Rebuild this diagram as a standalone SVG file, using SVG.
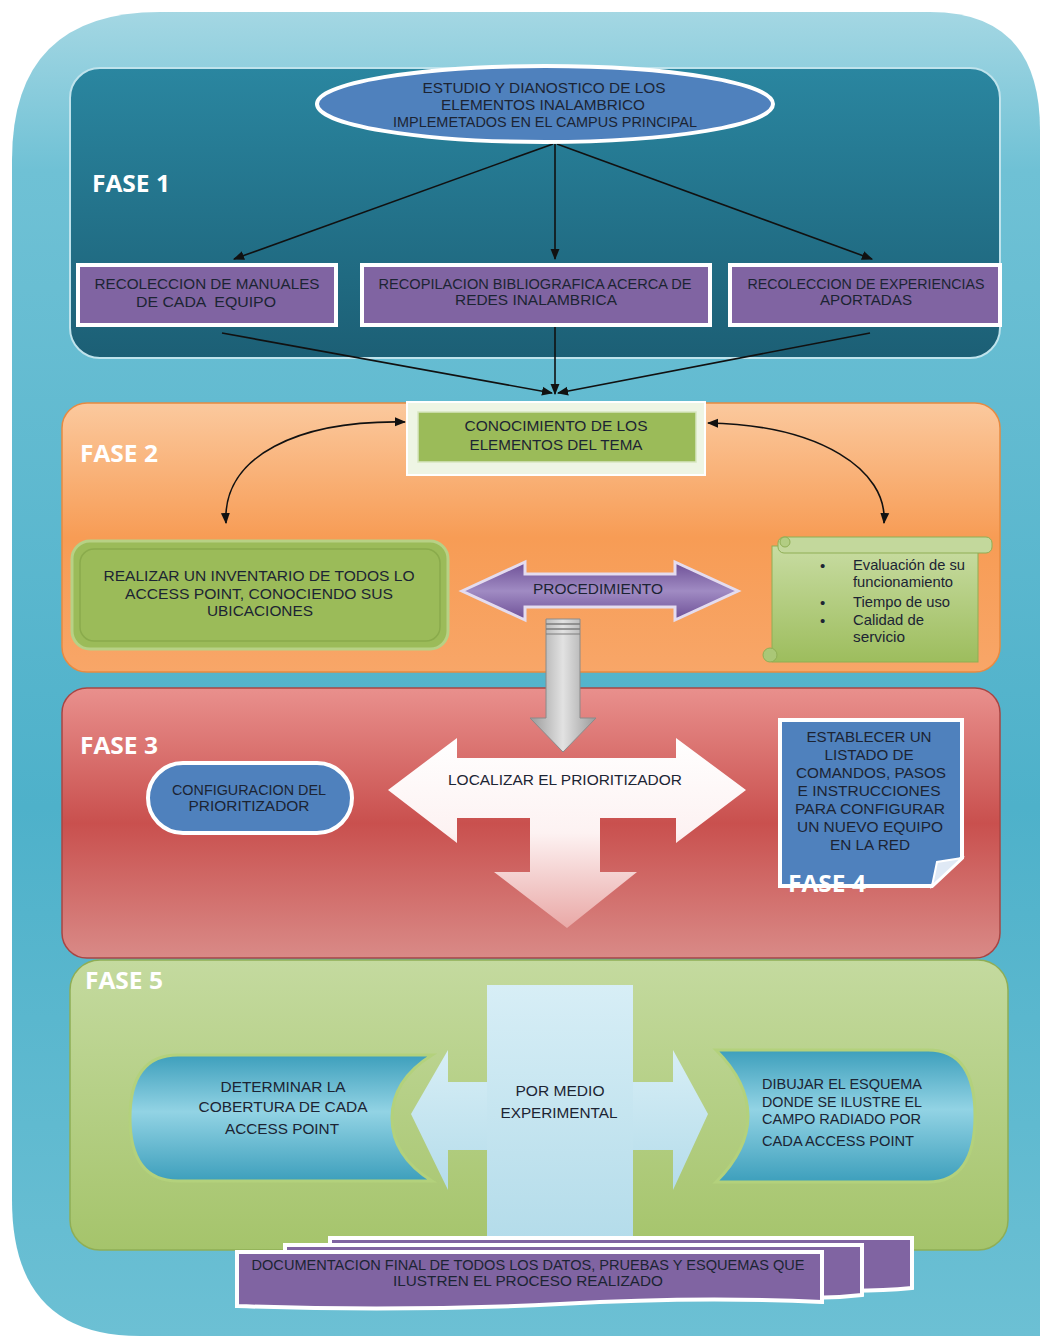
<svg xmlns="http://www.w3.org/2000/svg" width="1040" height="1336" viewBox="0 0 1040 1336">
<style>
.t{font-family:"Liberation Sans",Arial,sans-serif;font-size:15px;fill:#1c2433;text-anchor:middle}
.tl{font-family:"Liberation Sans",Arial,sans-serif;font-size:15px;fill:#1c2433;text-anchor:start}
.fase{font-family:"Open Sans","Liberation Sans",sans-serif;font-size:24px;font-weight:bold;fill:#ffffff}
.purple{fill:#8064a2;stroke:#ffffff;stroke-width:4}
.conn{fill:none;stroke:#111111;stroke-width:1.6}
</style>
<defs>
<linearGradient id="gOuter" x1="0" y1="0" x2="0" y2="1">
<stop offset="0" stop-color="#a4d7e3"/><stop offset="0.12" stop-color="#6fc1d5"/><stop offset="0.6" stop-color="#4eb1ca"/><stop offset="1" stop-color="#6cc0d4"/>
</linearGradient>
<linearGradient id="gF1" x1="0" y1="0" x2="0" y2="1">
<stop offset="0" stop-color="#2a86a0"/><stop offset="1" stop-color="#1c5f75"/>
</linearGradient>
<linearGradient id="gF2" x1="0" y1="0" x2="0" y2="1">
<stop offset="0" stop-color="#fbc99e"/><stop offset="0.5" stop-color="#f79c55"/><stop offset="1" stop-color="#f8a668"/>
</linearGradient>
<linearGradient id="gF3" x1="0" y1="0" x2="0" y2="1">
<stop offset="0" stop-color="#e9908d"/><stop offset="0.5" stop-color="#c9504e"/><stop offset="1" stop-color="#d98a87"/>
</linearGradient>
<linearGradient id="gF5" x1="0" y1="0" x2="0" y2="1">
<stop offset="0" stop-color="#c4da9f"/><stop offset="1" stop-color="#a5c46b"/>
</linearGradient>
<linearGradient id="gScroll" x1="0" y1="0" x2="0" y2="1">
<stop offset="0" stop-color="#c8dca2"/><stop offset="1" stop-color="#9dbd5d"/>
</linearGradient>
<linearGradient id="gGrey" x1="0" y1="0" x2="1" y2="0">
<stop offset="0" stop-color="#9a9a9a"/><stop offset="0.5" stop-color="#e2e2e2"/><stop offset="1" stop-color="#9a9a9a"/>
</linearGradient>
<linearGradient id="gWhite" x1="0" y1="0" x2="0" y2="1">
<stop offset="0" stop-color="#ffffff"/><stop offset="0.5" stop-color="#fdf2f2"/><stop offset="1" stop-color="#e9a8a6"/>
</linearGradient>
<linearGradient id="gCross" x1="0" y1="0" x2="0" y2="1">
<stop offset="0" stop-color="#d7eef6"/><stop offset="1" stop-color="#b4dcea"/>
</linearGradient>
<linearGradient id="gCyl" x1="0" y1="0" x2="0" y2="1">
<stop offset="0" stop-color="#3d9fbc"/><stop offset="0.45" stop-color="#92d3e4"/><stop offset="1" stop-color="#3d9fbc"/>
</linearGradient>
<linearGradient id="gProc" x1="0" y1="0" x2="0" y2="1">
<stop offset="0" stop-color="#6d4f96"/><stop offset="0.5" stop-color="#a08bc3"/><stop offset="1" stop-color="#6d4f96"/>
</linearGradient>
<marker id="ah" viewBox="0 0 10 10" refX="9" refY="5" markerWidth="7" markerHeight="7" orient="auto-start-reverse">
<path d="M0 1 L10 5 L0 9 Z" fill="#111111"/>
</marker>
</defs>

<rect width="1040" height="1336" fill="#ffffff"/>
<path d="M12 160 Q12 12 160 12 L930 12 Q1040 12 1040 130 L1040 1336 L140 1336 Q12 1336 12 1200 Z" fill="url(#gOuter)"/>

<g id="fase1-panel">
<rect x="70" y="68" width="930" height="290" rx="30" fill="url(#gF1)" stroke="#bfe3ec" stroke-width="2"/>
<text class="fase" x="92" y="192" textLength="78" lengthAdjust="spacingAndGlyphs">FASE 1</text>
</g>
<g id="fase2-panel">
<rect x="62" y="403" width="938" height="269" rx="25" fill="url(#gF2)" stroke="#e88a40" stroke-width="1.5"/>
<text class="fase" x="80" y="462" textLength="78" lengthAdjust="spacingAndGlyphs">FASE 2</text>
</g>
<g id="fase3-panel">
<rect x="62" y="688" width="938" height="270" rx="25" fill="url(#gF3)" stroke="#a94543" stroke-width="1.5"/>
<text class="fase" x="80" y="754" textLength="78" lengthAdjust="spacingAndGlyphs">FASE 3</text>
</g>
<g id="fase5-panel">
<rect x="70" y="960" width="938" height="290" rx="30" fill="url(#gF5)" stroke="#8fae55" stroke-width="1.5"/>
<text class="fase" x="85" y="989" textLength="78" lengthAdjust="spacingAndGlyphs">FASE 5</text>
</g>

<g id="connectors">
<line class="conn" x1="553" y1="144" x2="234" y2="259" marker-end="url(#ah)"/>
<line class="conn" x1="555" y1="144" x2="555" y2="259" marker-end="url(#ah)"/>
<line class="conn" x1="557" y1="144" x2="872" y2="259" marker-end="url(#ah)"/>
<line class="conn" x1="222" y1="333" x2="552" y2="393" marker-end="url(#ah)"/>
<line class="conn" x1="555" y1="325" x2="555" y2="394" marker-end="url(#ah)"/>
<line class="conn" x1="870" y1="333" x2="558" y2="393" marker-end="url(#ah)"/>
<path class="conn" d="M405 422 C300 420 222 455 226 523" marker-start="url(#ah)" marker-end="url(#ah)"/>
<path class="conn" d="M708 423 C820 425 888 470 884 523" marker-start="url(#ah)" marker-end="url(#ah)"/>
<polygon points="546,619 580,619 580,718 596,718 563,752 530,718 546,718" fill="url(#gGrey)" stroke="#8a8a8a" stroke-width="1"/>
<line x1="546" y1="624" x2="580" y2="624" stroke="#7d7d7d" stroke-width="1.5"/>
<line x1="546" y1="629" x2="580" y2="629" stroke="#7d7d7d" stroke-width="1.5"/>
<line x1="546" y1="634" x2="580" y2="634" stroke="#7d7d7d" stroke-width="1"/>
</g>

<g id="n-estudio">
<ellipse cx="545" cy="104" rx="228" ry="38" fill="#4f81bd" stroke="#ffffff" stroke-width="4"/>
<text class="t" x="544" y="93" textLength="243" lengthAdjust="spacingAndGlyphs">ESTUDIO Y DIANOSTICO DE LOS</text>
<text class="t" x="543" y="110" textLength="204" lengthAdjust="spacingAndGlyphs">ELEMENTOS INALAMBRICO</text>
<text class="t" x="545" y="127" textLength="304" lengthAdjust="spacingAndGlyphs">IMPLEMETADOS EN EL CAMPUS PRINCIPAL</text>
</g>
<g id="n-manuales">
<rect class="purple" x="78" y="265" width="258" height="60"/>
<text class="t" x="207" y="289" textLength="225" lengthAdjust="spacingAndGlyphs">RECOLECCION DE MANUALES</text>
<text class="t" x="206" y="307" textLength="140" lengthAdjust="spacingAndGlyphs" xml:space="preserve">DE CADA  EQUIPO</text>
</g>
<g id="n-bibliografica">
<rect class="purple" x="362" y="265" width="348" height="60"/>
<text class="t" x="535" y="289" textLength="313" lengthAdjust="spacingAndGlyphs">RECOPILACION BIBLIOGRAFICA ACERCA DE</text>
<text class="t" x="536" y="305" textLength="162" lengthAdjust="spacingAndGlyphs">REDES INALAMBRICA</text>
</g>
<g id="n-experiencias">
<rect class="purple" x="730" y="265" width="270" height="60"/>
<text class="t" x="866" y="289" textLength="237" lengthAdjust="spacingAndGlyphs">RECOLECCION DE EXPERIENCIAS</text>
<text class="t" x="866" y="305" textLength="92" lengthAdjust="spacingAndGlyphs">APORTADAS</text>
</g>

<g id="n-conocimiento">
<rect x="407" y="402" width="298" height="73" fill="#eef5e4" stroke="#ffffff" stroke-width="2"/>
<rect x="418" y="412" width="278" height="50" fill="#9bbb59" stroke="#d7e6c0" stroke-width="1.5"/>
<text class="t" x="556" y="431" textLength="183" lengthAdjust="spacingAndGlyphs">CONOCIMIENTO DE LOS</text>
<text class="t" x="556" y="450" textLength="173" lengthAdjust="spacingAndGlyphs">ELEMENTOS DEL TEMA</text>
</g>
<g id="n-inventario">
<rect x="72" y="541" width="376" height="108" rx="18" fill="#9bbb59" stroke="#b7d185" stroke-width="3"/>
<rect x="80" y="549" width="360" height="92" rx="14" fill="none" stroke="#8aab4c" stroke-width="1.5"/>
<text class="t" x="259" y="581" textLength="311" lengthAdjust="spacingAndGlyphs">REALIZAR UN INVENTARIO DE TODOS LO</text>
<text class="t" x="259" y="599" textLength="268" lengthAdjust="spacingAndGlyphs">ACCESS POINT, CONOCIENDO SUS</text>
<text class="t" x="260" y="616" textLength="106" lengthAdjust="spacingAndGlyphs">UBICACIONES</text>
</g>
<g id="n-procedimiento">
<polygon points="462,591 525,562 525,574 675,574 675,562 738,591 675,620 675,607 525,607 525,620" fill="url(#gProc)" stroke="#e4dcef" stroke-width="3"/>
<text class="t" x="598" y="594" textLength="130" lengthAdjust="spacingAndGlyphs">PROCEDIMIENTO</text>
</g>
<g id="n-scroll">
<rect x="772" y="546" width="206" height="116" fill="url(#gScroll)" stroke="#8fae55" stroke-width="1"/>
<rect x="778" y="537" width="214" height="16" rx="6" fill="#c3d89c" stroke="#8fae55" stroke-width="1"/>
<circle cx="770" cy="655" r="7" fill="#aac777" stroke="#8fae55" stroke-width="1"/>
<circle cx="785" cy="542" r="5" fill="#b2cd83" stroke="#8fae55" stroke-width="1"/>
<text class="tl" x="820" y="571" font-size="13">•</text>
<text class="tl" x="853" y="570" font-size="13" textLength="112" lengthAdjust="spacingAndGlyphs">Evaluación de su</text>
<text class="tl" x="853" y="587" font-size="13" textLength="100" lengthAdjust="spacingAndGlyphs">funcionamiento</text>
<text class="tl" x="820" y="608" font-size="13">•</text>
<text class="tl" x="853" y="607" font-size="13" textLength="97" lengthAdjust="spacingAndGlyphs">Tiempo de uso</text>
<text class="tl" x="820" y="626" font-size="13">•</text>
<text class="tl" x="853" y="625" font-size="13" textLength="71" lengthAdjust="spacingAndGlyphs">Calidad de</text>
<text class="tl" x="853" y="642" font-size="13" textLength="52" lengthAdjust="spacingAndGlyphs">servicio</text>
</g>

<g id="n-configuracion">
<rect x="148" y="763" width="204" height="70" rx="35" fill="#4f81bd" stroke="#ffffff" stroke-width="4"/>
<text class="t" x="249" y="795" textLength="154" lengthAdjust="spacingAndGlyphs">CONFIGURACION DEL</text>
<text class="t" x="249" y="811" textLength="121" lengthAdjust="spacingAndGlyphs">PRIORITIZADOR</text>
</g>
<g id="n-localizar">
<polygon points="388,790 457,738 457,758 676,758 676,738 746,790 676,843 676,818 600,818 600,872 637,872 567,928 494,872 530,872 530,818 457,818 457,843" fill="url(#gWhite)"/>
<text class="t" x="565" y="785" textLength="234" lengthAdjust="spacingAndGlyphs">LOCALIZAR EL PRIORITIZADOR</text>
</g>
<g id="n-fase4">
<path d="M780 720 L962 720 L962 858 L932 886 L780 886 Z" fill="#4f81bd" stroke="#ffffff" stroke-width="4"/>
<path d="M932 886 L937 862 L962 858 Z" fill="#dfe9f5" stroke="#ffffff" stroke-width="2"/>
<text class="t" x="869" y="742" textLength="125" lengthAdjust="spacingAndGlyphs">ESTABLECER UN</text>
<text class="t" x="869" y="760" textLength="89" lengthAdjust="spacingAndGlyphs">LISTADO DE</text>
<text class="t" x="871" y="778" textLength="150" lengthAdjust="spacingAndGlyphs">COMANDOS, PASOS</text>
<text class="t" x="869" y="796" textLength="143" lengthAdjust="spacingAndGlyphs">E INSTRUCCIONES</text>
<text class="t" x="870" y="814" textLength="150" lengthAdjust="spacingAndGlyphs">PARA CONFIGURAR</text>
<text class="t" x="870" y="832" textLength="146" lengthAdjust="spacingAndGlyphs">UN NUEVO EQUIPO</text>
<text class="t" x="870" y="850" textLength="80" lengthAdjust="spacingAndGlyphs">EN LA RED</text>
<text class="fase" x="788" y="892" textLength="78" lengthAdjust="spacingAndGlyphs">FASE 4</text>
</g>

<g id="n-experimental">
<polygon points="411,1114 448,1050 448,1082 673,1082 673,1050 708,1114 673,1190 673,1150 448,1150 448,1190" fill="url(#gCross)"/>
<rect x="487" y="985" width="146" height="255" fill="url(#gCross)"/>
<text class="t" x="560" y="1096" textLength="89" lengthAdjust="spacingAndGlyphs">POR MEDIO</text>
<text class="t" x="559" y="1118" textLength="117" lengthAdjust="spacingAndGlyphs">EXPERIMENTAL</text>
</g>
<g id="n-determinar">
<path d="M178 1055 L432 1055 Q392 1080 392 1118 Q392 1156 432 1181 L178 1181 Q130 1181 130 1118 Q130 1055 178 1055 Z" fill="url(#gCyl)" stroke="#b3d17c" stroke-width="3"/>
<text class="t" x="283" y="1092" textLength="125" lengthAdjust="spacingAndGlyphs">DETERMINAR LA</text>
<text class="t" x="283" y="1112" textLength="169" lengthAdjust="spacingAndGlyphs">COBERTURA DE CADA</text>
<text class="t" x="282" y="1134" textLength="114" lengthAdjust="spacingAndGlyphs">ACCESS POINT</text>
</g>
<g id="n-dibujar">
<path d="M716 1050 L928 1050 Q975 1050 975 1116 Q975 1182 928 1182 L716 1182 Q748 1150 748 1116 Q748 1082 716 1050 Z" fill="url(#gCyl)" stroke="#b3d17c" stroke-width="3"/>
<text class="tl" x="762" y="1089" textLength="160" lengthAdjust="spacingAndGlyphs">DIBUJAR EL ESQUEMA</text>
<text class="tl" x="762" y="1107" textLength="160" lengthAdjust="spacingAndGlyphs">DONDE SE ILUSTRE EL</text>
<text class="tl" x="762" y="1124" textLength="159" lengthAdjust="spacingAndGlyphs">CAMPO RADIADO POR</text>
<text class="tl" x="762" y="1146" textLength="152" lengthAdjust="spacingAndGlyphs">CADA ACCESS POINT</text>
</g>
<g id="n-documentacion">
<path d="M330 1238 L912 1238 L912 1288 Q870 1292 820 1290 L330 1290 Z" class="purple" stroke-width="3"/>
<path d="M285 1245 L862 1245 L862 1295 Q820 1300 780 1296 L285 1296 Z" class="purple" stroke-width="3"/>
<path d="M237 1252 L822 1252 L822 1302 Q700 1296 560 1304 Q400 1312 237 1306 Z" class="purple" stroke-width="3"/>
<text class="t" x="528" y="1270" textLength="553" lengthAdjust="spacingAndGlyphs">DOCUMENTACION FINAL DE TODOS LOS DATOS, PRUEBAS Y ESQUEMAS QUE</text>
<text class="t" x="528" y="1286" textLength="270" lengthAdjust="spacingAndGlyphs">ILUSTREN EL PROCESO REALIZADO</text>
</g>
</svg>
